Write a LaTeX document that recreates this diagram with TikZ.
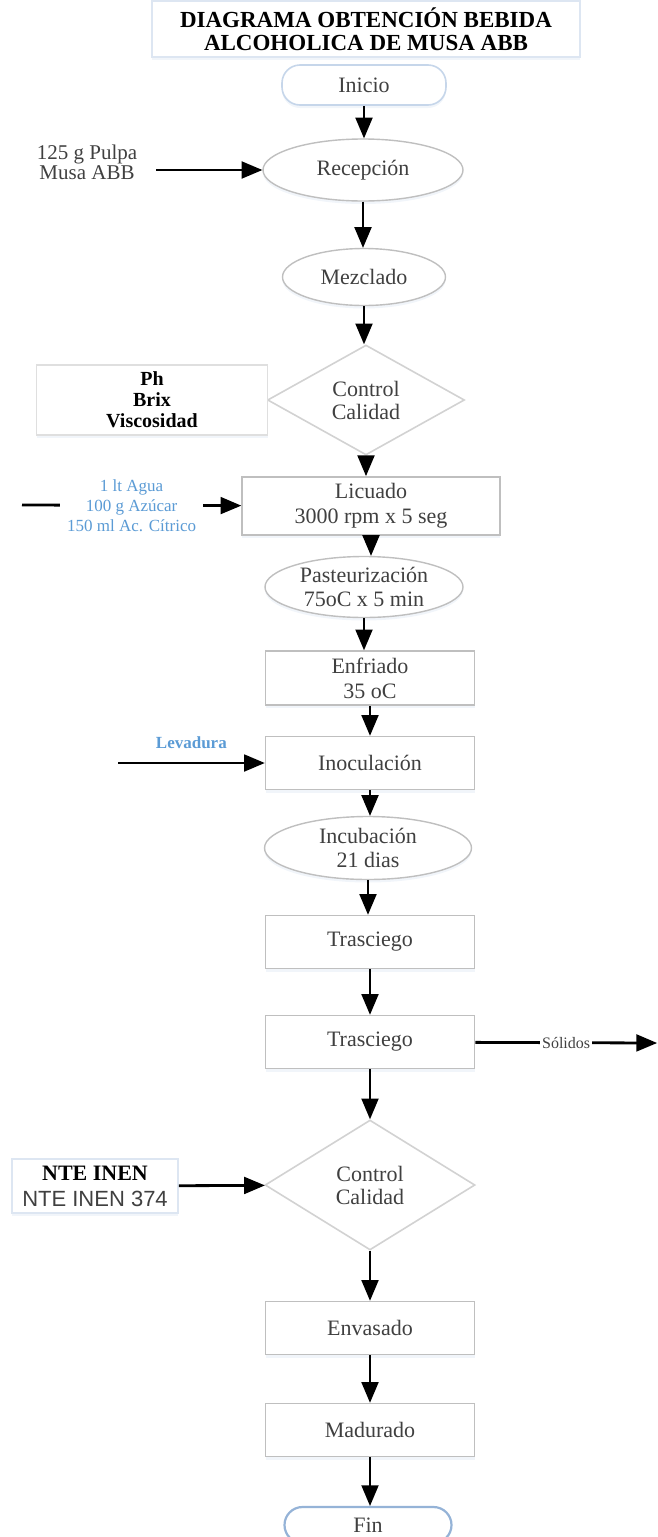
\documentclass[tikz,border=0pt]{standalone}
\usepackage{fontspec}
\setmainfont{Liberation Serif}
\newfontfamily\arial{Liberation Sans}
\usetikzlibrary{arrows,shapes,shadows}
\definecolor{borde}{HTML}{BFBFBF}
\definecolor{bordeazul}{HTML}{C6D6EA}
\definecolor{azulfin}{HTML}{95B3D7}
\definecolor{textoazul}{HTML}{5B9BD5}
\definecolor{textogris}{HTML}{404040}
\definecolor{sombra}{HTML}{E3EBF5}
\tikzstyle{sombreado}=[drop shadow={fill=sombra,shadow xshift=0pt,shadow yshift=-1.5pt}]
\tikzstyle{proceso}=[rectangle,draw=borde,line width=0.8pt,fill=white,sombreado,text=textogris,minimum width=104.5pt,minimum height=26.5pt,align=center,font=\fontsize{11}{12.5}\selectfont]
\tikzstyle{etapa}=[ellipse,draw=borde,line width=0.7pt,fill=white,sombreado,text=textogris,inner sep=0pt,align=center,font=\fontsize{11}{12}\selectfont]
\tikzstyle{control}=[diamond,draw=borde!70,line width=0.8pt,fill=white,text=textogris,aspect=1.8,inner sep=0pt,align=center,font=\fontsize{11}{11.5}\selectfont]
\tikzstyle{terminal}=[rectangle,rounded corners=9pt,draw=bordeazul,line width=0.8pt,fill=white,sombreado,text=textogris,minimum width=82pt,minimum height=20pt,font=\fontsize{11}{12}\selectfont]
\tikzstyle{nota}=[rectangle,draw=bordeazul!60,line width=0.8pt,fill=white,sombreado,align=center]
\tikzstyle{insumo}=[align=center,text=textoazul,font=\fontsize{8.5}{10}\selectfont]
\tikzstyle{flecha}=[draw,line width=1.4pt,-triangle 45]

\begin{document}
\begin{tikzpicture}[x=0.5pt,y=-0.5pt]
    \useasboundingbox (0,0) rectangle (658,1537);
    % Titulo
    \node[nota,minimum width=214pt,minimum height=21pt,font=\bfseries\fontsize{11.5}{11.5}\selectfont] (titulo) at (366,29)
        {DIAGRAMA OBTENCIÓN BEBIDA\\ALCOHOLICA DE MUSA ABB};
    % Inicio y fin
    \node[terminal] (inicio) at (364,85) {Inicio};
    \node[terminal,draw=azulfin,line width=1.1pt,minimum width=83.5pt,minimum height=18pt] (fin) at (368,1525) {Fin};
    % Etapas (elipses)
    \node[etapa,minimum width=100pt,minimum height=31pt] (recepcion) at (363,170) {Recepción};
    \node[etapa,minimum width=81.5pt,minimum height=28.5pt] (mezclado) at (364,277) {Mezclado};
    \node[etapa,minimum width=99pt,minimum height=30.5pt] (pasteurizacion) at (364,587) {Pasteurización\\75oC x 5 min};
    \node[etapa,minimum width=103.5pt,minimum height=31.5pt] (incubacion) at (368,848) {Incubación\\21 dias};
    % Controles
    \node[control,minimum width=98.5pt,minimum height=55pt] (control1) at (366,400) {Control\\Calidad};
    \node[control,minimum width=105pt,minimum height=65pt] (control2) at (370,1185) {Control\\Calidad};
    % Procesos (rectangulos)
    \node[proceso,minimum width=129pt,minimum height=26pt] (licuado) at (371,506) {Licuado\\3000 rpm x 5 seg};
    \foreach \pos/\name/\texto in {{(370,678)/enfriado/{Enfriado\\35 oC}}, {(370,763)/inoculacion/Inoculación},
        {(370,942)/trasciego1/Trasciego}, {(370,1042)/trasciego2/Trasciego},
        {(370,1328)/envasado/Envasado}, {(370,1430)/madurado/Madurado}}
       \node[proceso] (\name) at \pos {\texto};
    % Flujo principal
    \foreach \source/\dest in {inicio/recepcion, recepcion/mezclado, mezclado/control1, control1/licuado,
        licuado/pasteurizacion, pasteurizacion/enfriado, enfriado/inoculacion, inoculacion/incubacion,
        incubacion/trasciego1, trasciego1/trasciego2, trasciego2/control2, control2/envasado,
        envasado/madurado, madurado/fin}
        \path[flecha] (\source.south) -- (\source.south |- \dest.north);
    % Entradas y salidas
    \node[align=center,text=textogris,font=\fontsize{10.5}{10}\selectfont] (pulpa) at (87,162) {125 g Pulpa\\Musa ABB};
    \path[flecha] ([xshift=6pt]pulpa.east |- recepcion) -- (recepcion);
    \node[nota,draw=borde!50,minimum width=115.5pt,minimum height=32pt,font=\bfseries\fontsize{10}{10.5}\selectfont] (ph) at (152,400)
        {Ph\\Brix\\Viscosidad};
    \coordinate (c1) at (22,505);
    \path[flecha] (c1) -- node[insumo,fill=white,midway] (agua) {1 lt Agua\\100 g Azúcar\\150 ml Ac. Cítrico} (licuado);
    \coordinate (c2) at (118,763);
    \path[flecha] (c2) -- node[insumo,midway,above=3pt,font=\bfseries\fontsize{8.5}{10}\selectfont] (levadura) {Levadura} (inoculacion);
    \coordinate (c3) at (657,1043);
    \path[flecha] (trasciego2) -- node[fill=white,midway,text=textogris,inner sep=1pt,font=\fontsize{8}{9}\selectfont] (solidos) {Sólidos} (c3);
    \node[nota,minimum width=83pt,minimum height=26pt,font=\fontsize{11}{13}\selectfont] (nte) at (95,1186)
        {\textbf{NTE INEN}\\{\arial\color{textogris}NTE INEN 374}};
    \path[flecha] (nte) -- (control2);
\end{tikzpicture}
\end{document}
